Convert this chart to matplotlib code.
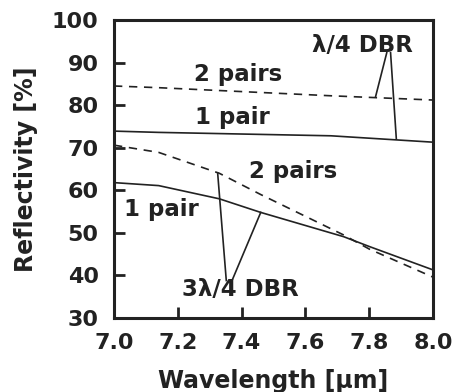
import matplotlib.pyplot as plt

# reflectivity vs wavelength for the two DBR designs
wl_q = [7.0, 7.14, 7.68, 8.0]
r_q_1pair = [73.9, 73.6, 72.8, 71.3]
r_q_2pairs = [84.5, 84.1, 82.2, 81.2]

wl_3q = [7.0, 7.14, 7.33, 7.46, 7.72, 7.8, 8.0]
r_3q_1pair = [61.8, 61.1, 58.0, 54.8, 49.1, 46.8, 41.3]
r_3q_2pairs = [70.6, 68.9, 64.0, 59.0, 49.5, 46.2, 39.6]

plt.rcParams['font.family'] = 'DejaVu Sans'
plt.rcParams['font.weight'] = 'bold'

fig = plt.figure(figsize=(4.54, 3.92), dpi=100)
ax = fig.add_axes([114 / 454, 1 - 318 / 392, 319 / 454, 298 / 392])

ink = '#222222'
ax.plot(wl_q, r_q_1pair, color=ink, lw=1.2)
ax.plot(wl_q, r_q_2pairs, color=ink, lw=1.2, ls=(0, (5, 4)))
ax.plot(wl_3q, r_3q_1pair, color=ink, lw=1.2)
ax.plot(wl_3q, r_3q_2pairs, color=ink, lw=1.2, ls=(0, (5, 4)))

ax.set_xlim(7.0, 8.0)
ax.set_ylim(30, 100)
ax.set_xticks([7.0, 7.2, 7.4, 7.6, 7.8, 8.0])
ax.set_yticks([30, 40, 50, 60, 70, 80, 90, 100])
ax.set_xticklabels(['7.0', '7.2', '7.4', '7.6', '7.8', '8.0'])
ax.tick_params(direction='in', length=8, width=2, labelsize=16, color=ink,
               labelcolor=ink, pad=11)
for s in ax.spines.values():
    s.set_linewidth(2.2)
    s.set_color(ink)
ax.set_xlabel('Wavelength [μm]', fontsize=17, fontweight='bold', color=ink, labelpad=11)
ax.set_ylabel('Reflectivity [%]', fontsize=17, fontweight='bold', color=ink, labelpad=10)

txt = dict(fontsize=16.5, fontweight='bold', color=ink, ha='center', va='center')
ax.text(7.39, 87.3, '2 pairs', **txt)
ax.text(7.37, 77.0, '1 pair', **txt)
ax.text(7.56, 64.3, '2 pairs', **txt)
ax.text(7.15, 55.4, '1 pair', **txt)
ax.text(7.78, 94.1, 'λ/4 DBR', **txt)
ax.text(7.395, 36.6, '3λ/4 DBR', **txt)

lk = dict(color=ink, lw=1.2)
ax.plot([7.855, 7.82], [92.3, 82.0], **lk)
ax.plot([7.867, 7.885], [92.3, 72.1], **lk)
ax.plot([7.352, 7.325], [38.8, 64.0], **lk)
ax.plot([7.37, 7.46], [38.8, 54.8], **lk)

fig.savefig('out.png', dpi=100)
